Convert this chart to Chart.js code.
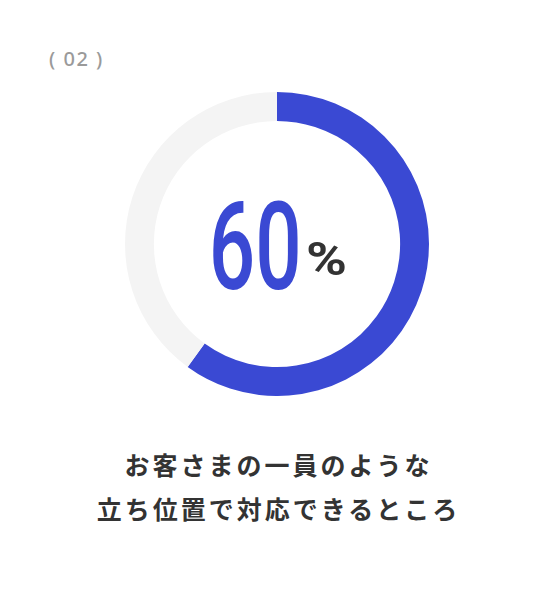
<!DOCTYPE html>
<html lang="ja">
<head>
<meta charset="utf-8">
<script src="https://cdn.jsdelivr.net/npm/chart.js@4"></script>
<style>
  html, body { margin: 0; padding: 0; background: #fff; }
  #wrap { position: relative; width: 554px; height: 600px; overflow: hidden; }
  #no {
    position: absolute; left: 49px; top: 45px;
    font-family: "Noto Sans", sans-serif; font-size: 20px; font-weight: 500;
    color: #9a9a9a; letter-spacing: 1.5px; white-space: pre;
  }
  #ring { position: absolute; left: 125px; top: 92px; }
  #num {
    position: absolute; right: 252px; top: 187px;
    font-family: Roboto, sans-serif; font-size: 122px; font-weight: 500;
    color: #3a49d3; line-height: 1; transform: scaleX(0.67); transform-origin: right center;
  }
  #pct {
    position: absolute; left: 306px; top: 235px;
    font-family: Roboto, sans-serif; font-size: 47px; font-weight: 700;
    color: #333; line-height: 1; transform: scaleX(1.18); transform-origin: left center;
  }
  #cap {
    position: absolute; left: 0; top: 442px; width: 554px; text-align: center;
    font-family: "Noto Sans CJK JP", sans-serif; font-size: 25px; font-weight: 700;
    color: #333; line-height: 44px; letter-spacing: 3px; padding-left: 3px; box-sizing: border-box;
  }
</style>
</head>
<body>
<div id="wrap">
  <div id="no"></div>
  <canvas id="ring" width="304" height="304"></canvas>
  <div id="num"></div>
  <div id="pct">%</div>
  <div id="cap"></div>
</div>
<script>
// datos del grafico
const etiquetas = ['対応', 'その他'];
const valores = [60, 40];
const colores = ['#3a49d3', '#f4f4f4'];
const numero = '( 02 )';
const texto = ['お客さまの一員のような', '立ち位置で対応できるところ'];

document.getElementById('no').textContent = numero;
document.getElementById('num').textContent = valores[0];
document.getElementById('cap').innerHTML = texto.join('<br>');

const canvas = document.getElementById('ring');
const grafico = new Chart(canvas, {
    type: 'doughnut',
    data: {
        labels: etiquetas,
        datasets: [
            {
                data: valores,
                backgroundColor: colores,
                borderWidth: 0,
            },
        ]
    },
    options: {
        responsive: false,
        animation: false,
        cutout: '81%',
        plugins: {
            legend: { display: false },
            tooltip: { enabled: false },
        },
    },
})
</script>
</body>
</html>
